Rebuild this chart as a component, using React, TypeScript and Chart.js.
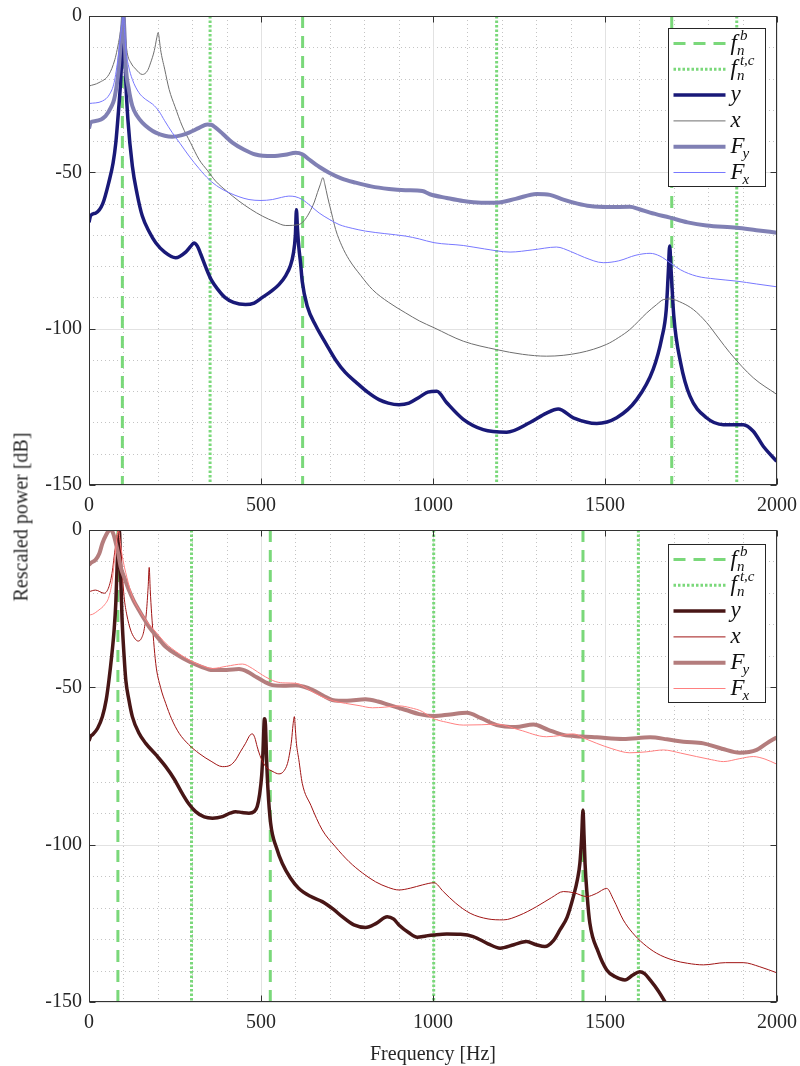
import React, { useEffect, useRef } from "react";
import { Chart, registerables } from "chart.js";

Chart.register(...registerables);

// ---------- axes ----------
const FREQ_MIN = 0;
const FREQ_MAX = 2000;
const DB_MIN = -150;
const DB_MAX = 0;
const xTickValues = [0, 500, 1000, 1500, 2000];
const yTickValues = [-150, -100, -50, 0];

// ---------- top panel ----------
const topBendingFreqs = [97, 621, 1694];
const topTorsionFreqs = [352, 1185, 1883];

const topYFreq = [0, 5, 20, 40, 58, 70, 78, 86, 92, 96, 100, 104, 107, 113, 126, 140, 155, 175, 194, 220, 252, 281, 296, 305, 315, 325, 340, 356, 375, 395, 420, 455, 480, 504, 530, 552, 572, 585, 594, 600, 603, 606, 610, 615, 620, 635, 659, 690, 717, 745, 775, 810, 843, 870, 901, 930, 959, 985, 1011, 1040, 1088, 1146, 1214, 1282, 1330, 1364, 1408, 1476, 1534, 1592, 1640, 1665, 1678, 1684, 1688, 1692, 1700, 1720, 1747, 1795, 1844, 1902, 1931, 1960, 1999];
const topYPower = [-66, -63.8, -63, -60, -53, -47, -40.5, -30, -21, -12, 0, -12, -21, -33, -48, -57, -64, -69, -72.5, -75.5, -77.3, -75.5, -73.6, -72.6, -73.6, -76.2, -80.5, -84.5, -87.5, -90, -91.6, -92.3, -91.8, -90, -88, -85.9, -83, -80, -76, -70, -62, -68, -74, -79, -85, -93, -99, -105, -110, -114, -117, -120.3, -122.7, -123.8, -124.3, -123.8, -122, -120.3, -120, -123.7, -129, -132.3, -133.1, -130, -127, -125.7, -128.5, -130.3, -128.5, -122.7, -113, -103, -94, -82, -73.6, -81, -96, -111, -121.6, -128.5, -130.7, -130.7, -132.8, -137.6, -142.4];

const topXFreq = [0, 29, 58, 75, 82, 90, 97, 100, 104, 111, 122, 136, 155, 170, 179, 190, 197, 201, 205, 208, 220, 233, 250, 271, 295, 320, 345, 368, 400, 436, 470, 504, 540, 572, 610, 625, 640, 655, 664, 672, 680, 686, 693, 705, 717, 735, 756, 790, 824, 870, 921, 960, 1003, 1088, 1185, 1260, 1330, 1427, 1505, 1540, 1572, 1621, 1650, 1670, 1689, 1725, 1757, 1795, 1830, 1863, 1931, 1999];
const topXPower = [-22.4, -21.3, -18.7, -14, -10.7, -6, -1, 0, -5, -11.7, -15, -17, -18.7, -17.5, -15, -11, -7, -5.3, -8, -10.7, -17, -23.5, -29, -35.2, -40.5, -45.9, -49.5, -52.8, -56, -59.2, -61.8, -64, -65.8, -67, -66.7, -65.5, -63, -59.5, -56.5, -54, -51.7, -54, -57.6, -63, -68.3, -73.5, -77.9, -83, -87.5, -91.5, -95, -97.5, -99.7, -104, -106.7, -108.2, -108.8, -107.7, -105, -102.8, -100.3, -95, -92.3, -90.7, -90.5, -91.8, -93.9, -98, -103, -107.7, -115.7, -121];

const topFyFreq = [0, 5, 19, 48, 65, 73, 82, 87, 93, 97, 100, 103, 107, 115, 126, 140, 155, 175, 194, 220, 242, 270, 291, 320, 344, 355, 368, 390, 417, 450, 484, 533, 570, 601, 620, 640, 670, 698, 735, 775, 820, 872, 920, 969, 991, 1040, 1088, 1140, 1185, 1240, 1301, 1340, 1379, 1420, 1456, 1510, 1572, 1600, 1631, 1689, 1740, 1795, 1883, 1940, 1999];
const topFyPower = [-36, -34, -33.6, -32, -29, -26.7, -21, -16, -8, -3.2, 0, -5, -16, -23, -28.8, -32, -34.1, -36, -37.3, -38.3, -38.6, -38.1, -37.3, -35.8, -34.7, -34.8, -35.7, -37.8, -40.5, -42.7, -44.3, -44.8, -44.4, -43.7, -44.2, -45.9, -48.3, -50.1, -52, -53.3, -54.5, -55.3, -55.7, -56, -57, -58.2, -59.2, -59.7, -59.7, -58.5, -56.9, -57.2, -58.7, -60, -60.8, -61.1, -61, -61.8, -62.9, -64.5, -66, -67, -67.7, -68.5, -69.3];

const topFxFreq = [0, 39, 60, 73, 85, 92, 97, 100, 103, 107, 115, 126, 145, 165, 185, 203, 220, 242, 265, 291, 320, 349, 378, 407, 436, 465, 500, 533, 560, 581, 600, 620, 645, 669, 698, 727, 765, 804, 860, 921, 960, 1003, 1088, 1150, 1224, 1290, 1359, 1400, 1440, 1495, 1540, 1590, 1631, 1660, 1689, 1720, 1766, 1820, 1883, 1940, 1999];
const topFxPower = [-28, -27.2, -25, -21.3, -13, -6.4, -2, 0, -4, -10.7, -16, -20.3, -24.5, -26.7, -28.2, -30.4, -33.5, -37.3, -40.8, -44.8, -48.8, -52.3, -54.8, -56.5, -57.8, -58.7, -59, -58.7, -58, -57.6, -57.8, -58.7, -60.8, -63, -65, -66.7, -67.9, -68.8, -69.6, -70.4, -71.3, -72.5, -73.4, -74.5, -75.5, -74.8, -73.9, -75.3, -77.2, -78.9, -78.3, -76.5, -75.9, -76.8, -78.9, -81.2, -83.2, -84.1, -84.8, -85.7, -86.6];

// ---------- bottom panel ----------
const bottomBendingFreqs = [84, 527, 1436];
const bottomTorsionFreqs = [298, 1002, 1597];

const bottomYFreq = [0, 5, 10, 25, 39, 50, 58, 66, 73, 78, 82, 86, 88, 90, 92, 96, 102, 107, 116, 126, 145, 165, 195, 223, 248, 271, 290, 310, 335, 359, 388, 410, 426, 445, 465, 480, 489, 496, 502, 506, 510, 513, 516, 520, 528, 545, 562, 585, 610, 645, 678, 710, 736, 770, 804, 835, 867, 885, 901, 930, 954, 980, 1003, 1040, 1080, 1117, 1160, 1195, 1235, 1272, 1300, 1325, 1350, 1369, 1390, 1408, 1420, 1427, 1432, 1436, 1439, 1442, 1448, 1456, 1480, 1505, 1530, 1558, 1580, 1601, 1615, 1631, 1655, 1674, 1700];
const bottomYPower = [-67, -65.5, -65.1, -63, -59.3, -54, -47.7, -40, -31.8, -23, -10.6, -2, 0, -4, -14, -28, -40, -47.7, -54, -59.3, -64.5, -67.8, -71.5, -75.2, -79.2, -83.7, -87, -89.5, -91.2, -91.6, -91.1, -90, -89.5, -89.8, -90, -89.5, -87.9, -84, -78, -70, -60, -62, -72, -82, -93.2, -101, -106, -110.5, -113.9, -116.5, -118.1, -120.5, -122.9, -125.5, -126.3, -125, -122.9, -123.6, -125.5, -128, -129.4, -129, -128.7, -128.4, -128.5, -129.2, -131.5, -132.9, -131.8, -130.8, -131.8, -132.4, -130.5, -127.1, -123, -116.5, -111, -105.9, -98, -89, -97, -106, -116, -125, -134, -139.8, -142, -143, -141.5, -140.4, -141, -143, -146.5, -149.9, -155];

const bottomXFreq = [0, 19, 44, 58, 68, 73, 80, 85, 88, 92, 97, 102, 110, 121, 132, 143, 152, 160, 167, 172, 175, 178, 182, 194, 208, 223, 240, 262, 290, 320, 355, 388, 410, 426, 440, 455, 468, 475, 482, 489, 500, 514, 535, 552, 565, 577, 584, 589, 593, 597, 600, 603, 610, 620, 645, 678, 715, 756, 795, 833, 870, 901, 935, 969, 1003, 1030, 1065, 1108, 1160, 1205, 1250, 1301, 1345, 1379, 1410, 1447, 1475, 1505, 1525, 1553, 1580, 1611, 1650, 1698, 1740, 1786, 1850, 1902, 1950, 1999];
const bottomXPower = [-19.6, -19.1, -20.1, -18, -13, -8.5, -3, 0, -1, -5.3, -14, -21.2, -27, -31.8, -34.3, -35.3, -34.5, -31.8, -26, -18, -11.9, -19, -26.5, -42.4, -50, -55.1, -60, -64.6, -68.2, -71, -73.5, -75.2, -74.8, -73.1, -70.5, -67.8, -65.2, -64.8, -66, -68.9, -72.5, -75.2, -76.8, -77.5, -76.8, -74.2, -70.5, -66.7, -62, -59.3, -63.5, -67.8, -73, -80.5, -87.5, -95.3, -100.5, -105.4, -109, -111.8, -113.6, -114.4, -113.8, -112.8, -112.1, -114.9, -118.5, -121.8, -123.6, -123.9, -122.5, -119.7, -116.8, -114.9, -115.3, -116.5, -115.5, -113.9, -117.5, -123.9, -128, -131.4, -134.5, -136.7, -137.7, -138.2, -137.5, -137.5, -138.8, -140.7];

const bottomFyFreq = [0, 5, 19, 30, 39, 50, 58, 64, 70, 78, 85, 92, 104, 116, 130, 145, 160, 174, 200, 223, 255, 291, 325, 359, 400, 436, 460, 484, 510, 533, 565, 601, 625, 649, 680, 707, 750, 804, 840, 872, 921, 960, 1003, 1050, 1098, 1140, 1185, 1240, 1292, 1335, 1379, 1430, 1476, 1553, 1631, 1680, 1728, 1786, 1840, 1892, 1941, 1970, 1999];
const bottomFyPower = [-11.1, -10.5, -9.5, -7.5, -4.2, -1.5, -0.2, 0, -1, -4.2, -7.5, -11.7, -15.5, -19.1, -22.5, -25.4, -28.2, -30.7, -34.2, -37.1, -39.6, -41.8, -43.4, -44.5, -44.5, -44.2, -45, -46.6, -48.2, -49.3, -49.5, -49.3, -49.8, -50.8, -52.6, -54, -54.3, -53.8, -54.5, -55.6, -57.2, -58.5, -59.1, -58.6, -58.1, -59.8, -62, -62.6, -61.8, -63.5, -65.1, -65.6, -65.9, -66.4, -65.9, -66.5, -67.3, -67.8, -69.5, -70.8, -69.9, -67.8, -65.9];

const bottomFxFreq = [0, 10, 29, 45, 58, 67, 73, 79, 85, 91, 97, 110, 126, 145, 165, 195, 223, 255, 291, 325, 359, 400, 446, 475, 504, 543, 570, 601, 640, 678, 710, 746, 785, 824, 860, 901, 935, 969, 991, 1003, 1040, 1088, 1140, 1185, 1250, 1330, 1370, 1408, 1440, 1476, 1520, 1572, 1620, 1670, 1720, 1766, 1810, 1844, 1890, 1931, 1965, 1999];
const bottomFxPower = [-27, -26.8, -25.4, -23.8, -21.2, -16.5, -10.6, -5, 0, -4, -8.5, -15, -21.2, -25.2, -28.6, -32.5, -36, -38.8, -41.3, -43, -44, -43.3, -42.6, -44, -46.1, -48.2, -48.6, -48.7, -50.8, -53, -54.3, -55.1, -55.8, -56.5, -56.3, -55.9, -56.5, -57.7, -59.3, -60, -61.1, -62, -61.9, -61.7, -63.5, -65.7, -65.3, -64.8, -66.2, -67.8, -69.5, -70.8, -70.5, -69.9, -70.9, -72, -73, -73.6, -72.7, -72, -72.8, -74.4];

// ---------- legend labels ----------
type LabelParts = { main: string; sub?: string; sup?: string };
const legendLabels: LabelParts[] = [
  { main: "f", sub: "n", sup: "b" },
  { main: "f", sub: "n", sup: "t,c" },
  { main: "y" },
  { main: "x" },
  { main: "F", sub: "y" },
  { main: "F", sub: "x" },
];

const GREEN = "rgb(122,216,122)";
const TEXT = "#262626";
const SERIF = '"Liberation Serif", "DejaVu Serif", serif';

type Style = { color: string; width: number; dash: number[] };
const topStyles: Style[] = [
  { color: GREEN, width: 3, dash: [12, 8] },
  { color: GREEN, width: 3, dash: [2.5, 2] },
  { color: "rgb(25,25,120)", width: 3.5, dash: [] },
  { color: "rgb(110,110,110)", width: 1, dash: [] },
  { color: "rgb(128,128,180)", width: 4, dash: [] },
  { color: "rgb(120,120,255)", width: 1, dash: [] },
];
const bottomStyles: Style[] = [
  { color: GREEN, width: 3, dash: [12, 8] },
  { color: GREEN, width: 3, dash: [2.5, 2] },
  { color: "rgb(72,22,22)", width: 3.5, dash: [] },
  { color: "rgb(160,20,20)", width: 1, dash: [] },
  { color: "rgb(180,125,125)", width: 4, dash: [] },
  { color: "rgb(255,128,128)", width: 1, dash: [] },
];

function pts(freq: number[], power: number[]) {
  return freq.map((f, i) => ({ x: f, y: power[i] }));
}
function vlines(freqs: number[]) {
  const out: { x: number; y: number | null }[] = [];
  freqs.forEach((f) => {
    out.push({ x: f, y: DB_MAX }, { x: f, y: DB_MIN }, { x: f, y: null });
  });
  return out;
}

function makeDecor(styles: Style[], legendTopOffset: number) {
  return {
    id: "panelDecor",
    beforeDatasetsDraw(chart: any) {
      const { ctx, chartArea, scales } = chart;
      const { left, right, top, bottom } = chartArea;
      const xs = scales.x;
      const ys = scales.y;
      ctx.save();
      ctx.lineWidth = 1;
      // minor dotted grid
      ctx.strokeStyle = "#c4c4c4";
      ctx.setLineDash([1, 3]);
      for (let f = 100; f < FREQ_MAX; f += 100) {
        if (f % 500 === 0) continue;
        const px = Math.round(xs.getPixelForValue(f)) + 0.5;
        ctx.beginPath(); ctx.moveTo(px, top); ctx.lineTo(px, bottom); ctx.stroke();
      }
      for (let d = DB_MIN + 10; d < DB_MAX; d += 10) {
        if (d % 50 === 0) continue;
        const py = Math.round(ys.getPixelForValue(d)) + 0.5;
        ctx.beginPath(); ctx.moveTo(left, py); ctx.lineTo(right, py); ctx.stroke();
      }
      // major solid grid
      ctx.setLineDash([]);
      ctx.strokeStyle = "#e2e2e2";
      xTickValues.forEach((f) => {
        const px = Math.round(xs.getPixelForValue(f)) + 0.5;
        ctx.beginPath(); ctx.moveTo(px, top); ctx.lineTo(px, bottom); ctx.stroke();
      });
      yTickValues.forEach((d) => {
        const py = Math.round(ys.getPixelForValue(d)) + 0.5;
        ctx.beginPath(); ctx.moveTo(left, py); ctx.lineTo(right, py); ctx.stroke();
      });
      ctx.restore();
    },
    afterDatasetsDraw(chart: any) {
      const { ctx, chartArea, scales } = chart;
      const { left, right, top, bottom } = chartArea;
      const xs = scales.x;
      const ys = scales.y;
      ctx.save();
      ctx.setLineDash([]);
      ctx.strokeStyle = "#333333";
      ctx.lineWidth = 1;
      const L = Math.round(left) + 0.5, R = Math.round(right) - 0.5;
      const T = Math.round(top) + 0.5, B = Math.round(bottom) - 0.5;
      ctx.strokeRect(L, T, R - L, B - T);
      // inward tick marks
      xTickValues.forEach((f) => {
        const px = Math.round(xs.getPixelForValue(f)) + 0.5;
        ctx.beginPath(); ctx.moveTo(px, B); ctx.lineTo(px, B - 6); ctx.stroke();
        ctx.beginPath(); ctx.moveTo(px, T); ctx.lineTo(px, T + 6); ctx.stroke();
      });
      yTickValues.forEach((d) => {
        const py = Math.round(ys.getPixelForValue(d)) + 0.5;
        ctx.beginPath(); ctx.moveTo(L, py); ctx.lineTo(L + 6, py); ctx.stroke();
        ctx.beginPath(); ctx.moveTo(R, py); ctx.lineTo(R - 6, py); ctx.stroke();
      });

      // legend
      const boxW = 97;
      const rowH = 25.8;
      const boxH = 14 + rowH * 5 + 14 + 1;
      const bx = Math.round(right - 12 - boxW) + 0.5;
      const by = Math.round(top + legendTopOffset) + 0.5;
      ctx.fillStyle = "#ffffff";
      ctx.fillRect(bx, by, boxW, boxH);
      ctx.strokeStyle = TEXT;
      ctx.lineWidth = 1;
      ctx.strokeRect(bx, by, boxW, boxH);
      legendLabels.forEach((lab, i) => {
        const st = styles[i];
        const ry = by + 15 + i * rowH;
        ctx.save();
        ctx.strokeStyle = st.color;
        ctx.lineWidth = st.width;
        ctx.setLineDash(st.dash);
        ctx.lineCap = "butt";
        ctx.beginPath(); ctx.moveTo(bx + 5, ry); ctx.lineTo(bx + 57, ry); ctx.stroke();
        ctx.restore();
        const tx = bx + 62;
        const base = ry + 6;
        ctx.fillStyle = "#111111";
        ctx.textBaseline = "alphabetic";
        ctx.textAlign = "left";
        ctx.font = `italic 23px ${SERIF}`;
        ctx.fillText(lab.main, tx, base);
        const w = ctx.measureText(lab.main).width;
        ctx.font = `italic 15px ${SERIF}`;
        const isF = lab.main === "f";
        if (lab.sup) ctx.fillText(lab.sup, tx + w + (isF ? 3 : 0), base - 10);
        if (lab.sub) ctx.fillText(lab.sub, tx + w + (isF ? 0 : -2), base + 5);
      });
      ctx.restore();
    },
  };
}

function buildConfig(
  datasets: { freq: number[]; power: number[] }[],
  bend: number[],
  tors: number[],
  styles: Style[],
  padTop: number,
  xAxisHeight: number,
  legendTopOffset: number
) {
  const lines = [vlines(bend), vlines(tors), ...datasets.map((d) => pts(d.freq, d.power))];
  const orders = [6, 5, 4, 3, 2, 1];
  return {
    type: "line" as const,
    data: {
      datasets: lines.map((data, i) => ({
        data,
        borderColor: styles[i].color,
        borderWidth: styles[i].width,
        borderDash: styles[i].dash,
        borderCapStyle: "butt",
        pointRadius: 0,
        pointHoverRadius: 0,
        fill: false,
        spanGaps: false,
        tension: 0,
        cubicInterpolationMode: i < 2 ? "default" : "monotone",
        order: orders[i],
      })),
    },
    options: {
      animation: false,
      responsive: false,
      events: [],
      layout: { padding: { top: padTop, right: 23, left: 0, bottom: 0 } },
      plugins: { legend: { display: false }, tooltip: { enabled: false } },
      scales: {
        x: {
          type: "linear",
          min: FREQ_MIN,
          max: FREQ_MAX,
          grid: { display: false, drawTicks: false },
          border: { display: false },
          afterBuildTicks: (s: any) => { s.ticks = xTickValues.map((v) => ({ value: v })); },
          afterFit: (s: any) => { s.height = xAxisHeight; s.paddingLeft = 0; s.paddingRight = 0; },
          ticks: {
            autoSkip: false,
            maxRotation: 0,
            padding: 9,
            color: TEXT,
            font: { family: SERIF, size: 20 },
            callback: (v: any) => String(v),
          },
        },
        y: {
          type: "linear",
          min: DB_MIN,
          max: DB_MAX,
          grid: { display: false, drawTicks: false },
          border: { display: false },
          afterBuildTicks: (s: any) => { s.ticks = yTickValues.map((v) => ({ value: v })); },
          afterFit: (s: any) => { s.width = 89; s.paddingTop = 0; s.paddingBottom = 0; },
          ticks: {
            autoSkip: false,
            padding: 7,
            color: TEXT,
            font: { family: SERIF, size: 20 },
            callback: (v: any) => String(v),
          },
        },
      },
    },
    plugins: [makeDecor(styles, legendTopOffset)],
  };
}

function Panel(props: { top: number; height: number; config: any }) {
  const ref = useRef<HTMLCanvasElement | null>(null);
  useEffect(() => {
    if (!ref.current) return;
    const chart = new Chart(ref.current, props.config);
    return () => chart.destroy();
  }, []);
  return (
    <canvas
      ref={ref}
      width={800}
      height={props.height}
      style={{ position: "absolute", left: 0, top: props.top, width: 800, height: props.height }}
    />
  );
}

export default function App() {
  const topConfig = buildConfig(
    [
      { freq: topYFreq, power: topYPower },
      { freq: topXFreq, power: topXPower },
      { freq: topFyFreq, power: topFyPower },
      { freq: topFxFreq, power: topFxPower },
    ],
    topBendingFreqs,
    topTorsionFreqs,
    topStyles,
    16,
    35,
    12
  );
  const bottomConfig = buildConfig(
    [
      { freq: bottomYFreq, power: bottomYPower },
      { freq: bottomXFreq, power: bottomXPower },
      { freq: bottomFyFreq, power: bottomFyPower },
      { freq: bottomFxFreq, power: bottomFxPower },
    ],
    bottomBendingFreqs,
    bottomTorsionFreqs,
    bottomStyles,
    10,
    64,
    14
  );
  return (
    <div style={{ position: "absolute", left: 0, top: 0, width: 800, height: 1066, background: "#fff", overflow: "hidden" }}>
      <Panel top={0} height={520} config={topConfig} />
      <Panel top={520} height={546} config={bottomConfig} />
      <div
        style={{
          position: "absolute",
          left: 21,
          top: 517,
          transform: "translate(-50%, -50%) rotate(-90deg)",
          whiteSpace: "nowrap",
          fontFamily: SERIF,
          fontSize: 20,
          color: TEXT,
        }}
      >
        Rescaled power [dB]
      </div>
      <div
        style={{
          position: "absolute",
          left: 433,
          top: 1053,
          transform: "translate(-50%, -50%)",
          whiteSpace: "nowrap",
          fontFamily: SERIF,
          fontSize: 20,
          color: TEXT,
        }}
      >
        Frequency [Hz]
      </div>
    </div>
  );
}
